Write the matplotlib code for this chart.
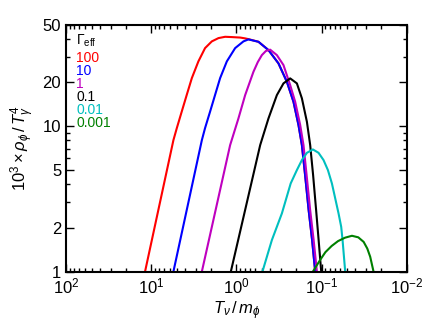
import matplotlib
matplotlib.use('Agg')
import matplotlib.pyplot as plt
from matplotlib.ticker import LogLocator, FixedLocator, FixedFormatter, NullFormatter

plt.rcParams['font.family'] = ['Liberation Sans', 'DejaVu Sans']
plt.rcParams['mathtext.fontset'] = 'custom'
plt.rcParams['mathtext.rm'] = 'Liberation Sans'
plt.rcParams['mathtext.it'] = 'Liberation Sans:italic'
plt.rcParams['mathtext.bf'] = 'Liberation Sans:bold'

# values: x = T_nu/m_phi, y = 10^3 rho_phi / T_gamma^4
gamma_labels = ['100', '10', '1', '0.1', '0.01', '0.001']
colors = ['r', 'b', 'm', 'k', 'c', 'g']

x_100 = [11.8, 5.48, 5.00, 4.37, 3.82, 3.33, 2.79, 2.33, 1.94, 1.62, 1.354, 1.13, 0.90,
         0.788, 0.721, 0.550, 0.4195, 0.3201, 0.2550, 0.2133, 0.1863, 0.1699,
         0.1558, 0.1416, 0.1289, 0.1186]
y_100 = [1.0, 8.02, 9.70, 12.64, 16.44, 21.42, 27.91, 34.44, 38.31, 40.36, 41.2, 41.01, 40.7,
         40.17, 39.7, 38.07, 33.38, 27.04, 20.20, 14.72, 10.18, 7.41,
         4.61, 2.65, 1.647, 1.0]

x_10 = [5.48, 2.54, 2.33, 2.03, 1.775, 1.55, 1.293, 1.033, 0.825, 0.721, 0.550,
        0.4195, 0.3201, 0.2550, 0.2133, 0.1863, 0.1699, 0.1558, 0.1416, 0.1289, 0.1186]
y_10 = [1.0, 8.02, 9.70, 12.64, 16.44, 21.42, 27.91, 34.44, 38.31, 39.53, 38.07,
        33.38, 27.04, 20.20, 14.72, 10.18, 7.41, 4.61, 2.65, 1.647, 1.0]

x_1 = [2.54, 1.183, 0.945, 0.788, 0.630, 0.560, 0.5016, 0.4500, 0.4006, 0.3343,
       0.2796, 0.2333, 0.2038, 0.1779, 0.1627, 0.1496, 0.1359, 0.1237, 0.1133]
y_1 = [1.0, 7.41, 11.31, 16.36, 23.66, 27.6, 30.83, 32.9, 33.6, 30.83,
       26.32, 19.17, 14.72, 10.18, 7.41, 4.61, 2.65, 1.647, 1.0]

x_01 = [1.16, 0.525, 0.4195, 0.3343, 0.2796, 0.2333, 0.1946, 0.1699, 0.1484,
        0.1358, 0.1255, 0.1157, 0.1081, 0.1008]
y_01 = [1.0, 7.41, 11.31, 16.36, 19.70, 21.32, 19.70, 15.54, 10.72,
        7.41, 4.61, 2.65, 1.647, 1.0]

x_001 = [0.4935, 0.438, 0.3826, 0.2919, 0.2300, 0.1946, 0.1699, 0.1484, 0.1262,
         0.1084, 0.0947, 0.0841, 0.0755, 0.0631, 0.0587, 0.0566, 0.0527]
y_001 = [1.0, 1.264, 1.647, 2.513, 4.04, 4.99, 5.85, 6.56, 6.92,
         6.56, 5.85, 4.99, 4.04, 2.513, 2.03, 1.647, 1.0]

x_0001 = [0.1262, 0.1040, 0.0900, 0.0760, 0.0640, 0.0530, 0.0439, 0.0370, 0.0320,
          0.0290, 0.0268, 0.0245]
y_0001 = [1.0, 1.20, 1.36, 1.50, 1.62, 1.71, 1.763, 1.72, 1.60,
          1.44, 1.264, 1.0]

xs = [x_100, x_10, x_1, x_01, x_001, x_0001]
ys = [y_100, y_10, y_1, y_01, y_001, y_0001]

fig = plt.figure(figsize=(4.43, 3.32), dpi=100)
ax = fig.add_axes([0.149, 0.182, 0.769, 0.744])

for x, y, c in zip(xs, ys, colors):
    ax.plot(x, y, color=c, lw=1.5, solid_joinstyle='round', solid_capstyle='butt')

ax.set_xscale('log')
ax.set_yscale('log')
ax.set_xlim(100, 0.01)
ax.set_ylim(1, 50)

ax.yaxis.set_major_locator(FixedLocator([1, 2, 5, 10, 20, 50]))
ax.yaxis.set_major_formatter(FixedFormatter(['1', '2', '5', '10', '20', '50']))
ax.yaxis.set_minor_locator(FixedLocator([3, 4, 6, 7, 8, 9, 30, 40]))
ax.yaxis.set_minor_formatter(NullFormatter())
ax.xaxis.set_major_locator(LogLocator(base=10, numticks=10))
ax.xaxis.set_minor_locator(LogLocator(base=10, subs=range(2, 10), numticks=10))

ax.tick_params(which='both', direction='in', top=True, right=True, labelsize=12)
ax.tick_params(which='major', length=6, width=1)
ax.tick_params(which='minor', length=3, width=1)
for s in ax.spines.values():
    s.set_linewidth(1.5)

ax.set_xlabel(r'$T_\nu\,/\,m_\phi$', fontsize=12, labelpad=2)
ax.set_ylabel(r'$10^3\times\rho_\phi\,/\,T_\gamma^4$', fontsize=12)

ax.text(0.03, 0.935, r'$\Gamma_{\rm eff}$', transform=ax.transAxes, fontsize=10, va='center')
for i, (lab, c) in enumerate(zip(gamma_labels, colors)):
    ax.text(0.03, 0.865 - i * 0.053, lab, color=c, transform=ax.transAxes, fontsize=10, va='center')

fig.savefig('out.png', dpi=100)
